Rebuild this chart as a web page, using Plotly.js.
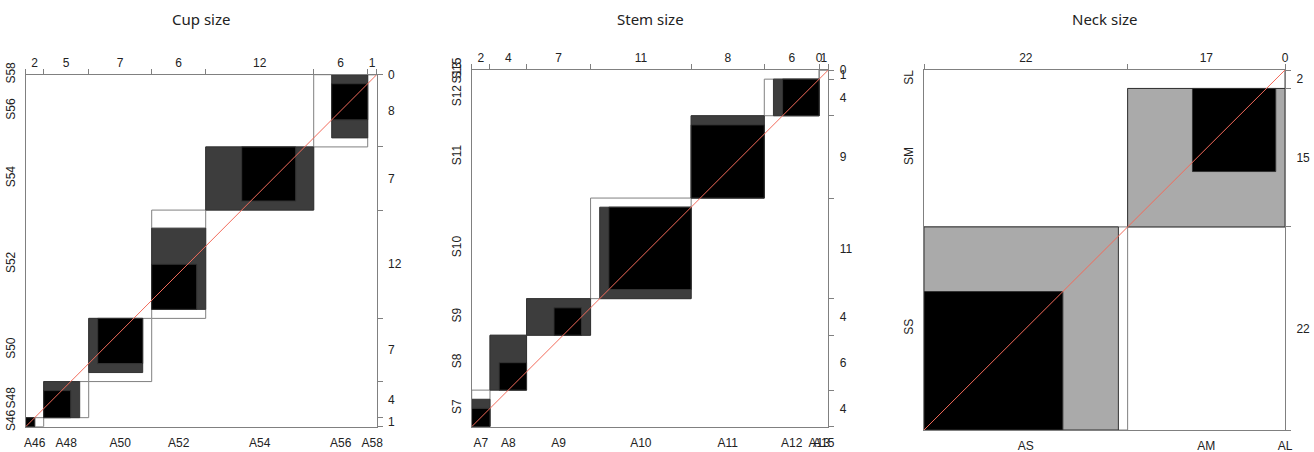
<!DOCTYPE html>
<html><head><meta charset="utf-8">
<script src="https://cdn.plot.ly/plotly-3.0.1.min.js"></script>
<style>html,body{margin:0;padding:0;background:#fff}#chart{width:1314px;height:452px}</style>
</head><body><div id="chart"></div>
<script>
// ---------- data (rows = S ratings on y, columns = A ratings on x) ----------
const cupColLabels = ['A46','A48','A50','A52','A54','A56','A58'];
const cupRowLabels = ['S46','S48','S50','S52','S54','S56','S58'];
const cupCounts = [
  [1,0,0,0,0,0,0],
  [0,3,1,0,0,0,0],
  [1,1,5,0,0,0,0],
  [0,1,0,5,4,2,0],
  [0,0,0,1,6,0,0],
  [0,0,1,0,2,4,1],
  [0,0,0,0,0,0,0]
];

const stemColLabels = ['A7','A8','A9','A10','A11','A12','A13','A15'];
const stemRowLabels = ['S7','S8','S9','S10','S11','S12','S13','S15'];
const stemCounts = [
  [2,1,0,1,0,0,0,0],
  [0,3,3,0,0,0,0,0],
  [0,0,3,1,0,0,0,0],
  [0,0,1,9,0,1,0,0],
  [0,0,0,0,8,1,0,0],
  [0,0,0,0,0,4,0,0],
  [0,0,0,0,0,0,0,1],
  [0,0,0,0,0,0,0,0]
];

const neckColLabels = ['AS','AM','AL'];
const neckRowLabels = ['SS','SM','SL'];
const neckCounts = [
  [15,7,0],
  [6,9,0],
  [1,1,0]
];

const panelTitles = ['Cup size','Stem size','Neck size'];

// ---------- layout helpers ----------
const W = 1314, H = 452;
const panels = [
  {cols:cupColLabels, rows:cupRowLabels, counts:cupCounts, px:[25.7,376.7], py:[74.7,426.7], partial:'#3d3d3d'},
  {cols:stemColLabels, rows:stemRowLabels, counts:stemCounts, px:[471.7,828.3], py:[70,426.7], partial:'#3d3d3d'},
  {cols:neckColLabels, rows:neckRowLabels, counts:neckCounts, px:[924,1285], py:[70,430], partial:'#aaaaaa'}
];

const AX = '#808080';
const FONT = {family:'Liberation Sans, Arial, sans-serif', size:12, color:'#222'};
const layout = {
  width:W, height:H, margin:{l:0,r:0,t:0,b:0},
  paper_bgcolor:'#fff', plot_bgcolor:'#fff', showlegend:false,
  shapes:[], annotations:[]
};
const traces = [];

function cumsum(a){const o=[0];a.forEach(v=>o.push(o[o.length-1]+v));return o;}

panels.forEach((p,k)=>{
  const s = k===0 ? '' : String(k+1);
  const so = String(k+4);
  const K = p.cols.length;
  const n = p.counts;
  const colTot = p.cols.map((_,c)=>n.reduce((t,r)=>t+r[c],0));
  const rowTot = n.map(r=>r.reduce((t,v)=>t+v,0));
  const N = colTot.reduce((a,b)=>a+b,0);
  const xs = cumsum(colTot), ys = cumsum(rowTot);
  const xm = colTot.map((v,i)=>xs[i]+v/2), ym = rowTot.map((v,i)=>ys[i]+v/2);
  const dx = [p.px[0]/W, p.px[1]/W];
  const dy = [(H-p.py[1])/H, (H-p.py[0])/H];

  const common = {range:[0,N], showgrid:false, zeroline:false, fixedrange:true,
                  showline:true, linecolor:AX, linewidth:1, tickfont:FONT, tickmode:'array'};
  layout['xaxis'+s] = Object.assign({}, common, {domain:dx, anchor:'y'+s,
     tickvals:xm, ticktext:p.cols, tickangle:0, ticks:'outside', ticklen:5, tickcolor:'rgba(0,0,0,0)'});
  layout['yaxis'+s] = Object.assign({}, common, {domain:dy, anchor:'x'+s,
     tickvals:ym, ticktext:p.rows, tickangle:-90, ticks:'outside', ticklen:5, tickcolor:'rgba(0,0,0,0)'});
  layout['xaxis'+so] = Object.assign({}, common, {overlaying:'x'+s, side:'top', anchor:'y'+s,
     tickvals:xm, ticktext:colTot.map(String), tickangle:0, ticks:'outside', ticklen:2, tickcolor:'rgba(0,0,0,0)',
     minor:{tickmode:'array', tickvals:xs, ticks:'outside', ticklen:5, tickcolor:AX, tickwidth:1, showgrid:false}});
  layout['yaxis'+so] = Object.assign({}, common, {overlaying:'y'+s, side:'right', anchor:'x'+s,
     tickvals:ym, ticktext:rowTot.map(String), tickangle:0, ticks:'outside', ticklen:8, tickcolor:'rgba(0,0,0,0)',
     minor:{tickmode:'array', tickvals:ys, ticks:'outside', ticklen:5, tickcolor:AX, tickwidth:1, showgrid:false}});

  // invisible traces so overlay axes are drawn
  traces.push({x:[0],y:[0],xaxis:'x'+so,yaxis:'y'+s,mode:'markers',marker:{opacity:0},hoverinfo:'skip'});
  traces.push({x:[0],y:[0],xaxis:'x'+s,yaxis:'y'+so,mode:'markers',marker:{opacity:0},hoverinfo:'skip'});

  const xr='x'+s, yr='y'+s;
  const rect = (x0,w,y0,h,fill,lc)=>layout.shapes.push({type:'rect',xref:xr,yref:yr,x0:x0,x1:x0+w,y0:y0,y1:y0+h,
      fillcolor:fill,line:{color:lc,width:1},layer:'below'});
  const colSum = (c,r0,r1)=>{let t=0;for(let r=r0;r<=r1;r++)t+=n[r][c];return t;};
  const rowSum = (r,c0,c1)=>{let t=0;for(let c=c0;c<=c1;c++)t+=n[r][c];return t;};
  // white rectangles (marginals)
  for(let i=0;i<K;i++) rect(xs[i],colTot[i],ys[i],rowTot[i],'#ffffff',AX);
  // partial agreement
  for(let i=0;i<K;i++){
    const lb=Math.max(0,i-1), ub=Math.min(K-1,i+1);
    const x0=xs[i]+colSum(i,0,lb-1), w=colSum(i,lb,ub);
    const y0=ys[i]+rowSum(i,0,lb-1), h=rowSum(i,lb,ub);
    if(w>0&&h>0) rect(x0,w,y0,h,p.partial,'#333333');
  }
  // exact agreement
  for(let i=0;i<K;i++){
    const x0=xs[i]+colSum(i,0,i-1), y0=ys[i]+rowSum(i,0,i-1), d=n[i][i];
    if(d>0) rect(x0,d,y0,d,'#000000','#333333');
  }
  // diagonal
  traces.push({x:[0,N],y:[0,N],xaxis:xr,yaxis:yr,mode:'lines',line:{color:'#f26b5b',width:1},hoverinfo:'skip'});

  layout.annotations.push({xref:'paper',yref:'paper',x:(dx[0]+dx[1])/2,y:(H-19)/H,xanchor:'center',yanchor:'middle',
     text:panelTitles[k],showarrow:false,font:{family:'Noto Sans, Open Sans, sans-serif',size:15,color:'#222'}});
});

Plotly.newPlot('chart', traces, layout, {displayModeBar:false, staticPlot:true});
</script>
</body></html>
